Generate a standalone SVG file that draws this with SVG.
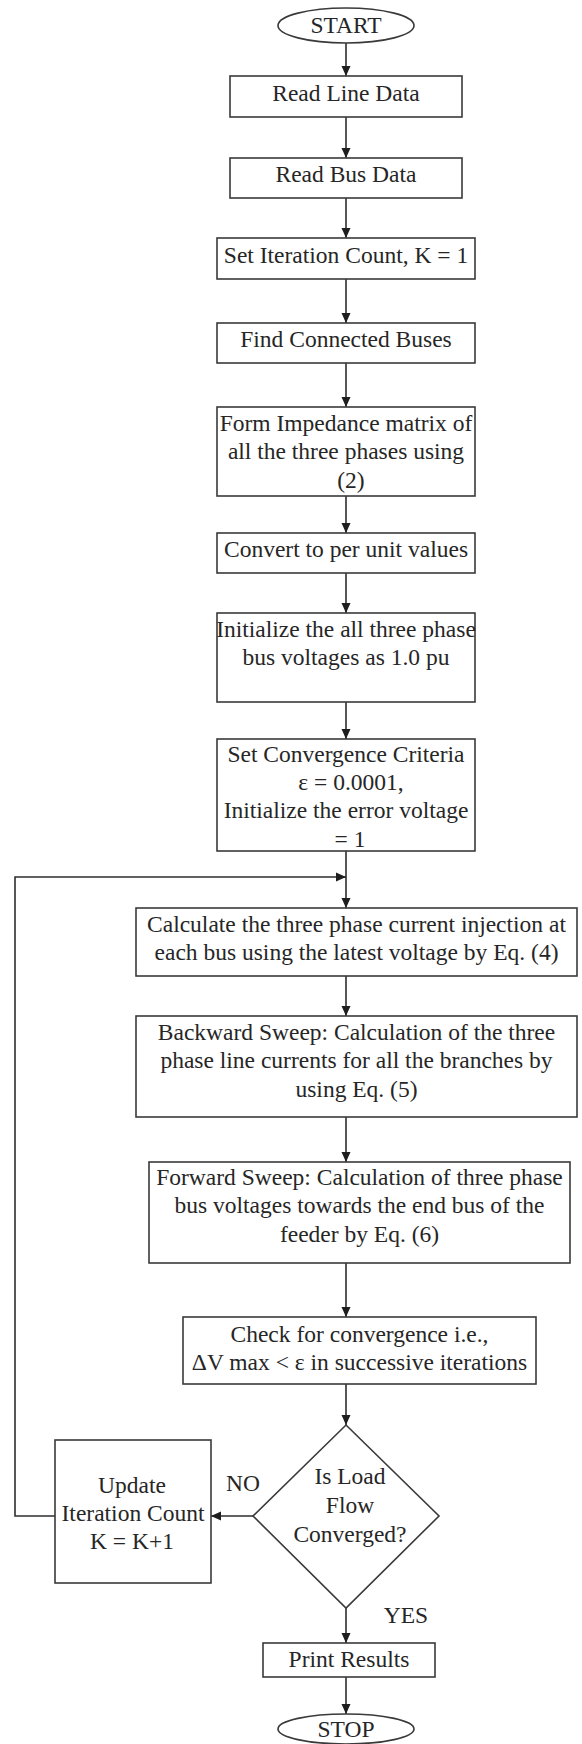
<svg xmlns="http://www.w3.org/2000/svg" width="582" height="1744" viewBox="0 0 582 1744">
<style>
.n{fill:#fff;stroke:#3a3a3a;stroke-width:1.6}
.t{font-family:"Liberation Serif","Times New Roman",serif;font-size:23.5px;fill:#262626;text-anchor:middle}
.c{fill:none;stroke:#2e2e2e;stroke-width:1.6}
</style>
<defs>
<marker id="ah" markerWidth="10" markerHeight="12" refX="10" refY="6" orient="auto" markerUnits="userSpaceOnUse">
<path d="M0,1.5 L10,6 L0,10.5 Z" fill="#1e1e1e"/>
</marker>
</defs>
<rect width="582" height="1744" fill="#fff"/>
<g id="connectors">
<line class="c" x1="346" y1="43" x2="346" y2="76" marker-end="url(#ah)"/>
<line class="c" x1="346" y1="117" x2="346" y2="158" marker-end="url(#ah)"/>
<line class="c" x1="346" y1="198" x2="346" y2="238" marker-end="url(#ah)"/>
<line class="c" x1="346" y1="279" x2="346" y2="323" marker-end="url(#ah)"/>
<line class="c" x1="346" y1="363" x2="346" y2="407" marker-end="url(#ah)"/>
<line class="c" x1="346" y1="496" x2="346" y2="533" marker-end="url(#ah)"/>
<line class="c" x1="346" y1="573" x2="346" y2="613" marker-end="url(#ah)"/>
<line class="c" x1="346" y1="702" x2="346" y2="739" marker-end="url(#ah)"/>
<line class="c" x1="346" y1="851" x2="346" y2="908" marker-end="url(#ah)"/>
<polyline class="c" points="55,1516 15,1516 15,877 346,877" marker-end="url(#ah)"/>
<line class="c" x1="346" y1="976" x2="346" y2="1016" marker-end="url(#ah)"/>
<line class="c" x1="346" y1="1117" x2="346" y2="1162" marker-end="url(#ah)"/>
<line class="c" x1="346" y1="1263" x2="346" y2="1317" marker-end="url(#ah)"/>
<line class="c" x1="346" y1="1384" x2="346" y2="1425" marker-end="url(#ah)"/>
<line class="c" x1="253" y1="1516" x2="211" y2="1516" marker-end="url(#ah)"/>
<line class="c" x1="346" y1="1608" x2="346" y2="1643" marker-end="url(#ah)"/>
<line class="c" x1="346" y1="1677" x2="346" y2="1714" marker-end="url(#ah)"/>
<text class="t" x="243" y="1491">NO</text>
<text class="t" x="406" y="1623">YES</text>
</g>
<g id="start">
<ellipse class="n" cx="346" cy="25.5" rx="68" ry="17.5"/>
<text class="t" x="346" y="33">START</text>
</g>
<g id="read-line">
<rect class="n" x="230" y="76" width="232" height="41"/>
<text class="t" x="346" y="101">Read Line Data</text>
</g>
<g id="read-bus">
<rect class="n" x="230" y="158" width="232" height="40"/>
<text class="t" x="346" y="182">Read Bus Data</text>
</g>
<g id="set-iter">
<rect class="n" x="217" y="238" width="258" height="41"/>
<text class="t" x="346" y="263">Set Iteration Count, K = 1</text>
</g>
<g id="find-buses">
<rect class="n" x="217" y="323" width="258" height="40"/>
<text class="t" x="346" y="347">Find Connected Buses</text>
</g>
<g id="form-imp">
<rect class="n" x="217" y="407" width="258" height="89"/>
<text class="t" x="346" y="431">Form Impedance matrix of</text>
<text class="t" x="346" y="459">all the three phases using</text>
<text class="t" x="351" y="488">(2)</text>
</g>
<g id="convert">
<rect class="n" x="217" y="533" width="258" height="40"/>
<text class="t" x="346" y="557">Convert to per unit values</text>
</g>
<g id="init-volt">
<rect class="n" x="217" y="613" width="258" height="89"/>
<text class="t" x="346" y="637">Initialize the all three phase</text>
<text class="t" x="346" y="665">bus voltages as 1.0 pu</text>
</g>
<g id="set-conv">
<rect class="n" x="217" y="739" width="258" height="112"/>
<text class="t" x="346" y="762">Set Convergence Criteria</text>
<text class="t" x="351" y="790">ε = 0.0001,</text>
<text class="t" x="346" y="818">Initialize the error voltage</text>
<text class="t" x="350" y="847">= 1</text>
</g>
<g id="calc-current">
<rect class="n" x="136" y="908" width="441" height="68"/>
<text class="t" x="356.5" y="932">Calculate the three phase current injection at</text>
<text class="t" x="356.5" y="960">each bus using the latest voltage by Eq. (4)</text>
</g>
<g id="backward">
<rect class="n" x="136" y="1016" width="441" height="101"/>
<text class="t" x="356.5" y="1040">Backward Sweep: Calculation of the three</text>
<text class="t" x="356.5" y="1068">phase line currents for all the branches by</text>
<text class="t" x="356.5" y="1097">using Eq. (5)</text>
</g>
<g id="forward">
<rect class="n" x="149" y="1162" width="421" height="101"/>
<text class="t" x="359.5" y="1185">Forward Sweep: Calculation of three phase</text>
<text class="t" x="359.5" y="1213">bus voltages towards the end bus of the</text>
<text class="t" x="359.5" y="1242">feeder by Eq. (6)</text>
</g>
<g id="check">
<rect class="n" x="183" y="1317" width="353" height="67"/>
<text class="t" x="359.5" y="1342">Check for convergence i.e.,</text>
<text class="t" x="359.5" y="1370">ΔV max &lt; ε in successive iterations</text>
</g>
<g id="decision">
<polygon class="n" points="346,1425 439,1516 346,1608 253,1516"/>
<text class="t" x="350" y="1484">Is Load</text>
<text class="t" x="350" y="1513">Flow</text>
<text class="t" x="350" y="1542">Converged?</text>
</g>
<g id="update">
<rect class="n" x="55" y="1440" width="156" height="143"/>
<text class="t" x="132" y="1493">Update</text>
<text class="t" x="133" y="1521">Iteration Count</text>
<text class="t" x="132" y="1549">K = K+1</text>
</g>
<g id="print">
<rect class="n" x="263" y="1643" width="172" height="34"/>
<text class="t" x="349" y="1667">Print Results</text>
</g>
<g id="stop">
<ellipse class="n" cx="346" cy="1729" rx="68" ry="15"/>
<text class="t" x="346" y="1737">STOP</text>
</g>
</svg>
